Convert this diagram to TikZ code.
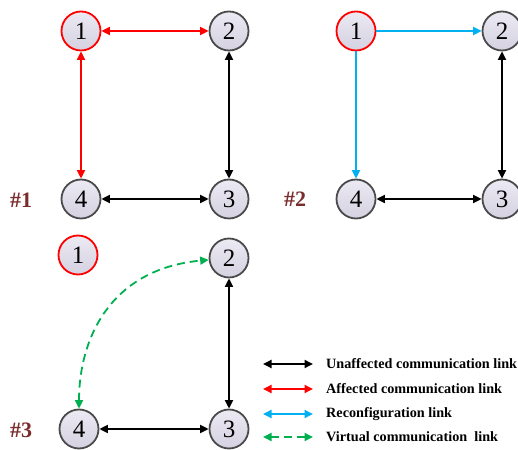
\documentclass[tikz,border=0pt]{standalone}
\usepackage{fontspec}
\setmainfont{Liberation Serif}
\usetikzlibrary{arrows.meta}
\definecolor{nodeborder}{HTML}{4A4A4A}
\definecolor{affred}{HTML}{FF0000}
\definecolor{reconf}{HTML}{00B0F0}
\definecolor{virt}{HTML}{00B050}
\definecolor{lab}{HTML}{7B2C2C}
\definecolor{filltop}{HTML}{ECEAF3}
\definecolor{fillbot}{HTML}{D5D1E1}
\tikzset{
  nd/.style={circle, minimum size=39pt, inner sep=0pt, draw=nodeborder, line width=1.8pt,
    top color=filltop, bottom color=fillbot, font=\fontsize{25}{25}\selectfont},
  failnd/.style={nd, draw=affred},
  lk/.style={line width=1.8pt, >={Triangle[length=8.5pt,width=8pt]}},
  unaff/.style={lk, <->, black},
  aff/.style={lk, <->, affred},
  rec/.style={lk, ->, reconf},
  vir/.style={lk, <->, virt, dash pattern=on 8pt off 5pt},
  tag/.style={font=\bfseries\fontsize{22}{22}\selectfont, text=lab},
  legtxt/.style={anchor=west, font=\bfseries\fontsize{14.2}{14.2}\selectfont, inner sep=0pt}
}
\begin{document}
\begin{tikzpicture}[x=1pt,y=1pt]
\useasboundingbox (0,0) rectangle (518,449);
% panel 1
\node[failnd] (a1) at (81,418) {1};
\node[nd] (a2) at (229,418) {2};
\node[nd] (a3) at (229,250) {3};
\node[nd] (a4) at (81,250) {4};
\node[tag] (t1) at (21,249) {\#1};
\draw[aff] (a1) -- (a2);
\draw[aff] (a1) -- (a4);
\draw[unaff] (a2) -- (a3);
\draw[unaff] (a4) -- (a3);
% panel 2
\node[failnd] (b1) at (356,418) {1};
\node[nd] (b2) at (502,418) {2};
\node[nd] (b3) at (502,250) {3};
\node[nd] (b4) at (356,250) {4};
\node[tag] (t2) at (295,250) {\#2};
\draw[rec] (b1) -- (b2);
\draw[rec] (b1) -- (b4);
\draw[unaff] (b2) -- (b3);
\draw[unaff] (b4) -- (b3);
% panel 3
\node[failnd] (c1) at (78,194) {1};
\node[nd] (c2) at (229,191) {2};
\node[nd] (c3) at (229,20) {3};
\node[nd] (c4) at (79,20) {4};
\node[tag] (t3) at (21,19) {\#3};
\draw[vir] (c4) .. controls (79,110) and (110,180) .. (c2);
\draw[unaff] (c2) -- (c3);
\draw[unaff] (c4) -- (c3);
% legend
\coordinate (l1a) at (263,85); \coordinate (l1b) at (313,85);
\coordinate (l2a) at (263,60); \coordinate (l2b) at (313,60);
\coordinate (l3a) at (263,35); \coordinate (l3b) at (313,35);
\coordinate (l4a) at (263,12); \coordinate (l4b) at (313,12);
\draw[unaff] (l1a) -- (l1b);
\draw[aff] (l2a) -- (l2b);
\draw[lk, <->, reconf] (l3a) -- (l3b);
\draw[vir] (l4a) -- (l4b);
\node[legtxt] (g1) at (326,85) {Unaffected communication link};
\node[legtxt] (g2) at (326,60) {Affected communication link};
\node[legtxt] (g3) at (326,35) {Reconfiguration link};
\node[legtxt] (g4) at (326,12) {Virtual communication\ \ link};
\end{tikzpicture}
\end{document}
